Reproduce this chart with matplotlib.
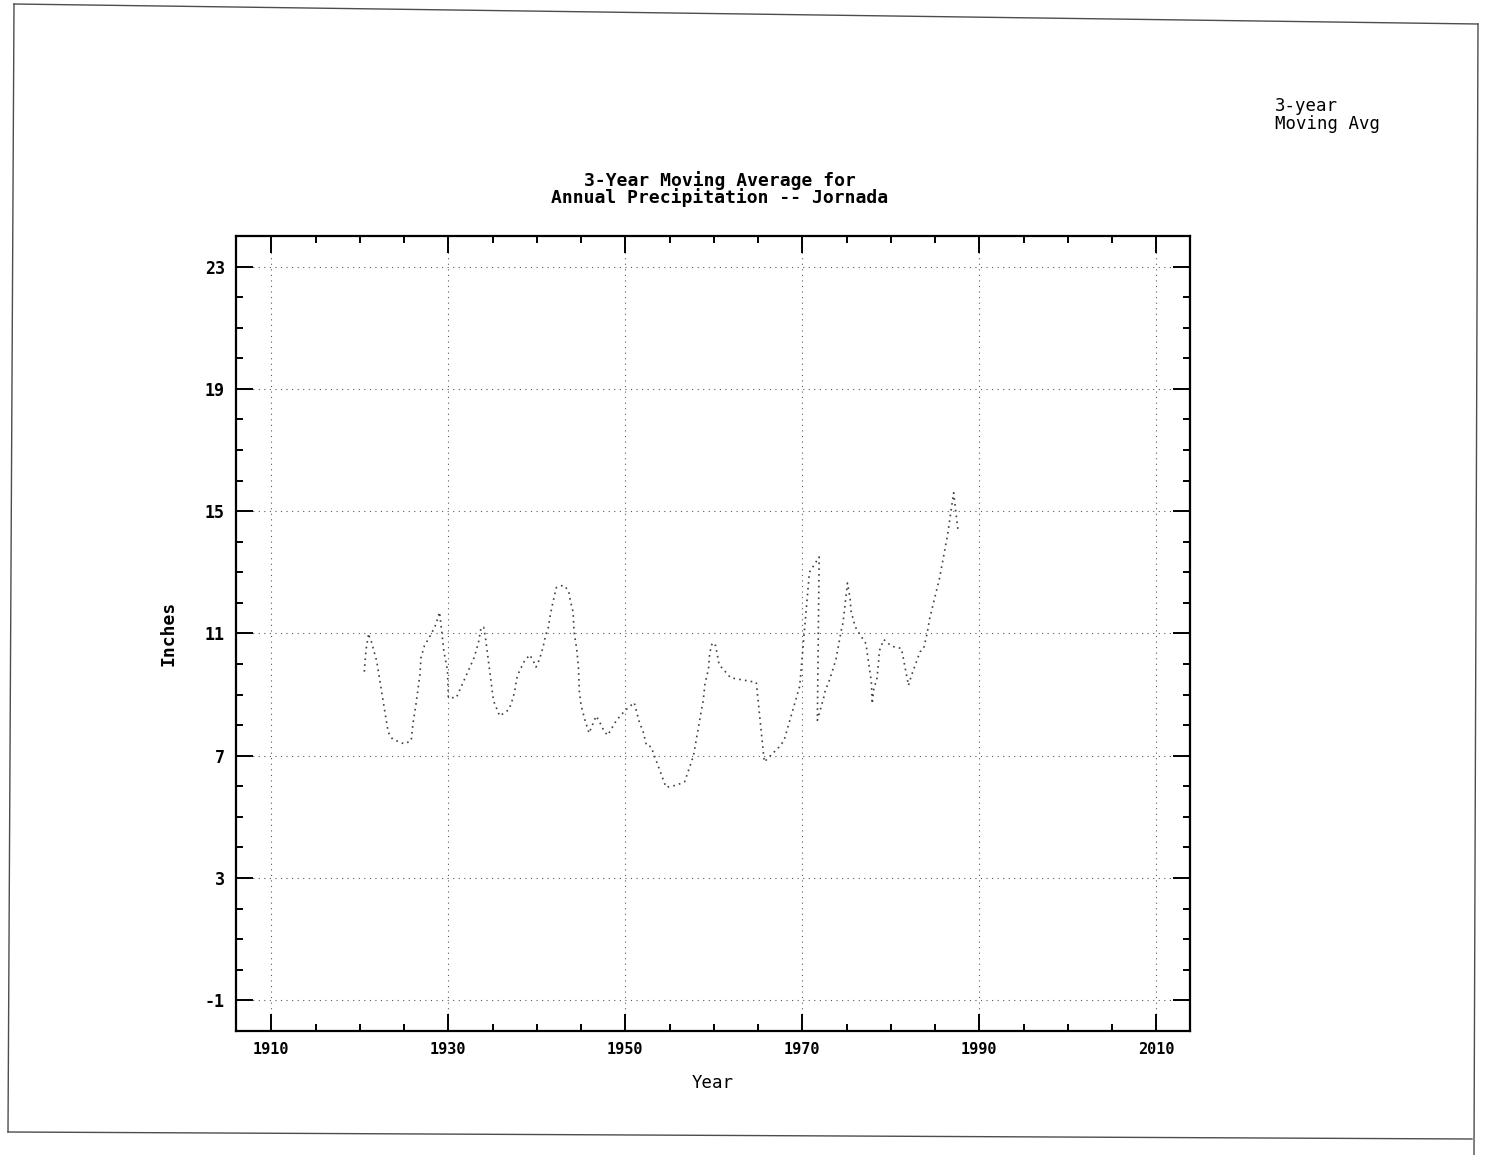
import matplotlib
matplotlib.use("Agg")
import matplotlib.pyplot as plt
from matplotlib.lines import Line2D
from matplotlib.ticker import MultipleLocator, FixedLocator

plt.rcParams["axes.unicode_minus"] = False

# 3-year moving average (year, inches)
YEARS = [
    1920.5, 1920.7, 1921.0, 1921.1, 1921.3, 1921.9, 1923.2, 1923.7, 1925.0, 1925.8,
    1926.0, 1926.3, 1926.8, 1926.9, 1927.3, 1928.1, 1928.6, 1929.0, 1929.2, 1929.5,
    1929.9, 1930.0, 1930.9, 1932.9, 1933.2, 1933.4, 1933.7, 1934.0, 1934.2, 1935.1,
    1935.8, 1936.8, 1937.1, 1937.5, 1937.7, 1938.0, 1938.6, 1939.2, 1939.6, 1939.9,
    1940.3, 1940.7, 1941.0, 1941.3, 1941.5, 1941.8, 1942.2, 1942.8, 1943.1, 1943.6,
    1943.8, 1944.1, 1944.2, 1944.5, 1944.7, 1944.8, 1945.0, 1945.4, 1945.9, 1946.7,
    1947.1, 1947.6, 1948.0, 1949.0, 1949.9, 1951.0, 1951.6, 1952.0, 1952.4, 1952.9,
    1954.6, 1955.8, 1956.7, 1957.7, 1958.6, 1958.8, 1959.0, 1959.4, 1959.5, 1959.7,
    1959.9, 1960.2, 1960.6, 1961.9, 1964.8, 1965.7, 1967.6, 1968.0, 1969.7, 1970.8,
    1971.9, 1971.7, 1972.4, 1972.6, 1973.1, 1973.8, 1974.4, 1974.6, 1975.1, 1975.4,
    1975.5, 1975.9, 1976.1, 1977.2, 1977.3, 1977.8, 1977.9, 1978.1, 1978.4, 1978.6,
    1978.7, 1979.2, 1980.1, 1981.2, 1982.0, 1982.3, 1983.3, 1983.7, 1984.1, 1984.4,
    1985.5, 1986.4, 1987.1, 1987.6,
]
MOVING_AVG = [
    9.75, 10.48, 11.0, 10.86, 10.73, 10.1, 7.77, 7.54, 7.39, 7.49,
    8.05, 8.6, 9.68, 10.2, 10.6, 11.0, 11.3, 11.7, 11.2, 10.4,
    9.8, 8.9, 8.9, 10.2, 10.5, 10.7, 11.2, 11.2, 10.85, 8.8,
    8.3, 8.5, 8.7, 9.1, 9.5, 9.75, 10.1, 10.3, 10.1, 9.9,
    10.15, 10.55, 10.95, 11.2, 11.57, 12.0, 12.5, 12.56, 12.57, 12.38,
    12.05, 11.7, 11.07, 10.5, 9.9, 9.1, 8.65, 8.2, 7.74, 8.3,
    8.1, 7.8, 7.67, 8.16, 8.46, 8.74, 8.08, 7.8, 7.33, 7.3,
    5.97, 6.04, 6.15, 7.0, 8.5, 8.8, 9.35, 9.85, 10.25, 10.6,
    10.7, 10.6, 9.98, 9.55, 9.4, 6.8, 7.35, 7.57, 9.27, 13.0,
    13.5, 8.16, 8.88, 9.14, 9.5, 10.15, 11.1, 11.35, 12.65, 12.13,
    11.74, 11.3, 11.15, 10.66, 10.43, 9.42, 8.7, 9.25, 9.45, 10.0,
    10.43, 10.8, 10.58, 10.51, 9.3, 9.6, 10.4, 10.5, 11.0, 11.5,
    12.8, 14.2, 15.6, 14.35,
]

X_MAJOR = [1910, 1930, 1950, 1970, 1990, 2010]
Y_MAJOR = [-1, 3, 7, 11, 15, 19, 23]

MONO = "DejaVu Sans Mono"
W, H = 1503, 1155

fig = plt.figure(figsize=(15.03, 11.55), dpi=100)
ax = fig.add_axes([0.157, 0.1074, 0.6347, 0.6883])

ax.plot(YEARS, MOVING_AVG, color="0.25", linewidth=1.2,
        linestyle=(0, (1, 2.5)))

ax.set_xlim(1906, 2013.8)
ax.set_ylim(-2, 24)

ax.xaxis.set_major_locator(FixedLocator(X_MAJOR))
ax.xaxis.set_minor_locator(MultipleLocator(5))
ax.yaxis.set_major_locator(FixedLocator(Y_MAJOR))
ax.yaxis.set_minor_locator(MultipleLocator(1))

ax.tick_params(which="both", direction="in", top=True, right=True, width=1.4)
ax.tick_params(which="major", length=12)
ax.tick_params(which="minor", length=5)
ax.tick_params(axis="x", which="major", pad=8, labelsize=11)
ax.tick_params(axis="y", which="major", pad=8, labelsize=12)

for lab in ax.get_xticklabels() + ax.get_yticklabels():
    lab.set_fontfamily(MONO)
    lab.set_fontweight("bold")

for sp in ax.spines.values():
    sp.set_linewidth(1.6)

ax.grid(True, which="major", color="0.35", linewidth=0.8, linestyle=(0, (1, 4)))

ax.set_xlabel("Year", fontfamily=MONO, fontsize=12.5, labelpad=12)
ax.set_ylabel("Inches", fontfamily=MONO, fontsize=13, fontweight="bold", labelpad=20)

fig.text(720 / W, 1 - 181 / H, "3-Year Moving Average for",
         ha="center", va="center", fontfamily=MONO, fontsize=13, fontweight="bold")
fig.text(720 / W, 1 - 198 / H, "Annual Precipitation -- Jornada",
         ha="center", va="center", fontfamily=MONO, fontsize=13, fontweight="bold")

fig.text(1275 / W, 1 - 115 / H, "3-year\nMoving Avg", ha="left", va="center",
         fontfamily=MONO, fontsize=12.5, linespacing=1.0)

# slightly skewed page border from the scan
border = dict(color="0.3", linewidth=1.0, transform=fig.transFigure)
fig.add_artist(Line2D([14 / W, 1478 / W], [1 - 4 / H, 1 - 24 / H], **border))
fig.add_artist(Line2D([14 / W, 8 / W], [1 - 4 / H, 1 - 1132 / H], **border))
fig.add_artist(Line2D([8 / W, 1472 / W], [1 - 1132 / H, 1 - 1139 / H], **border))
fig.add_artist(Line2D([1478 / W, 1474 / W], [1 - 24 / H, 0], **border))

fig.savefig("out.png", dpi=100)
